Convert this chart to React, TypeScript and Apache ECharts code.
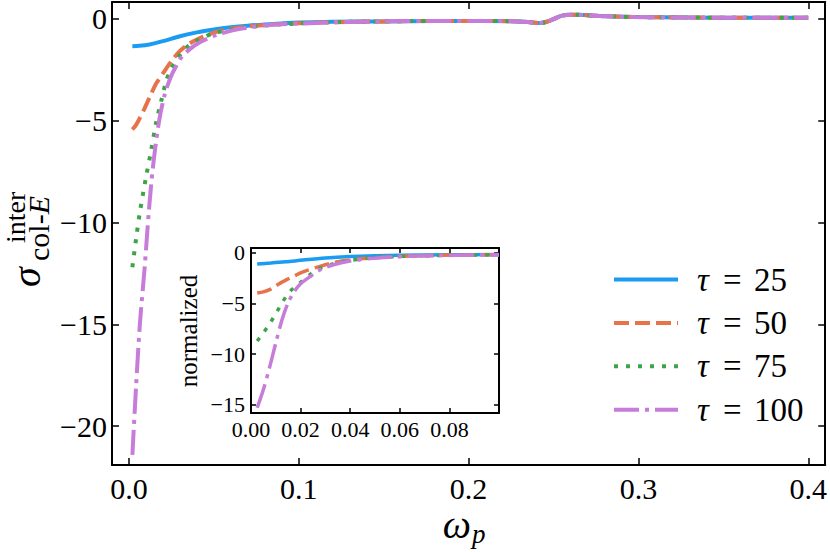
import React, { useEffect, useRef } from "react";
import * as echarts from "echarts";

const FONT = '"Liberation Serif", "DejaVu Serif", serif';

// ---- main panel data (ω_p, σ) ----
const tau25Head: [number, number][] = [
  [0.002, -1.37], [0.006, -1.35], [0.012, -1.28], [0.02, -1.12], [0.03, -0.88],
  [0.04, -0.69], [0.05, -0.55], [0.06, -0.44], [0.07, -0.36], [0.08, -0.3],
  [0.09, -0.25], [0.1, -0.21], [0.12, -0.17],
];
const tau50Head: [number, number][] = [
  [0.002, -5.45], [0.004, -5.25], [0.006, -4.95], [0.009, -4.45], [0.012, -3.9],
  [0.016, -3.2], [0.02, -2.7], [0.025, -2.1], [0.03, -1.6], [0.035, -1.27],
  [0.04, -1.04], [0.05, -0.7], [0.06, -0.51], [0.07, -0.4], [0.08, -0.33],
  [0.1, -0.24], [0.12, -0.19],
];
const tau75Head: [number, number][] = [
  [0.002, -12.2], [0.0042, -10.8], [0.0065, -9.46], [0.01, -7.8], [0.013, -6.5],
  [0.016, -5.1], [0.019, -4.05], [0.022, -3.05], [0.025, -2.45], [0.028, -2.05],
  [0.031, -1.7], [0.035, -1.35], [0.041, -1.05], [0.05, -0.73], [0.06, -0.55],
  [0.07, -0.43], [0.08, -0.35], [0.1, -0.25], [0.12, -0.19],
];
const tau100Head: [number, number][] = [
  [0.002, -21.4], [0.0042, -18.0], [0.0065, -14.9], [0.0092, -12.25], [0.0117, -9.46],
  [0.0141, -7.3], [0.0177, -5.05], [0.021, -3.75], [0.0245, -2.9], [0.0275, -2.39],
  [0.031, -1.9], [0.036, -1.5], [0.041, -1.21], [0.051, -0.83], [0.061, -0.59],
  [0.07, -0.45], [0.081, -0.34], [0.1, -0.26], [0.12, -0.2],
];
const commonTail: [number, number][] = [
  [0.15, -0.15], [0.18, -0.13], [0.21, -0.13], [0.225, -0.14], [0.235, -0.18],
  [0.242, -0.23], [0.246, -0.17], [0.25, -0.04], [0.255, 0.13], [0.26, 0.18],
  [0.268, 0.16], [0.277, 0.11], [0.297, 0.065], [0.33, 0.04], [0.36, 0.03], [0.4, 0.03],
];

// ---- inset data (normalized) ----
const inset25: [number, number][] = [
  [0.0025, -1.09], [0.008, -1.0], [0.014, -0.88], [0.021, -0.7], [0.03, -0.5],
  [0.04, -0.36], [0.05, -0.28], [0.06, -0.23], [0.08, -0.18], [0.1, -0.15],
];
const inset50: [number, number][] = [
  [0.0025, -3.96], [0.005, -3.85], [0.0077, -3.6], [0.01, -3.25], [0.0144, -2.64],
  [0.021, -1.88], [0.0278, -1.32], [0.0345, -0.9], [0.0412, -0.66], [0.048, -0.49],
  [0.061, -0.33], [0.075, -0.24], [0.09, -0.19], [0.1, -0.17],
];
const inset75: [number, number][] = [
  [0.0025, -8.7], [0.005, -7.9], [0.0075, -7.0], [0.01, -6.0], [0.0125, -4.95],
  [0.015, -4.0], [0.0175, -3.4], [0.02, -2.9], [0.024, -2.1], [0.028, -1.5],
  [0.032, -1.15], [0.037, -0.85], [0.048, -0.5], [0.06, -0.34], [0.075, -0.25],
  [0.09, -0.2], [0.1, -0.18],
];
const inset100: [number, number][] = [
  [0.0025, -15.3], [0.005, -13.5], [0.0075, -11.3], [0.01, -8.9], [0.0125, -6.6],
  [0.015, -4.9], [0.0175, -3.8], [0.02, -3.05], [0.024, -2.3], [0.028, -1.65],
  [0.034, -1.12], [0.04, -0.8], [0.048, -0.56], [0.06, -0.37], [0.075, -0.26],
  [0.09, -0.21], [0.1, -0.19],
];

const seriesNames = ["τ = 25", "τ = 50", "τ = 75", "τ = 100"];
const mainXTicks = [0, 0.1, 0.2, 0.3, 0.4];
const mainYTicks = [0, -5, -10, -15, -20];
const insetXTicks = [0, 0.02, 0.04, 0.06, 0.08];
const insetYTicks = [0, -5, -10, -15];

const COLORS = ["#1a9cf2", "#e8734a", "#3da548", "#c77cd9"];
const DASHES: any[] = ["solid", [15, 6], [4, 8], [25, 6, 4, 6]];

const fmtSigned = (v: number, d: number) =>
  (v < 0 ? "\u2212" : "") + Math.abs(v).toFixed(d);

function axisBase(
  grid: number,
  ticks: number[],
  showLabels: boolean,
  fontSize: number,
  digits: number,
  tickLen: number,
  extra: any
) {
  return {
    type: "value",
    gridIndex: grid,
    axisLine: { show: true, onZero: false, lineStyle: { color: "#000", width: 2 } },
    axisTick: {
      show: true,
      inside: true,
      length: tickLen,
      customValues: ticks,
      lineStyle: { color: "#000", width: 1.5 },
    },
    axisLabel: {
      show: showLabels,
      customValues: ticks,
      formatter: (v: number) => fmtSigned(v, digits),
      fontFamily: FONT,
      fontSize,
      color: "#000",
    },
    splitLine: { show: false },
    ...extra,
  };
}

export default function App() {
  const ref = useRef<HTMLDivElement>(null);
  useEffect(() => {
    document.body.style.margin = "0";
    if (!ref.current) return;
    const chart = echarts.init(ref.current, undefined, { renderer: "svg" });
    const mainData = [tau25Head, tau50Head, tau75Head, tau100Head].map((h) =>
      h.concat(commonTail)
    );
    const insetData = [inset25, inset50, inset75, inset100];

    const series: any[] = [];
    mainData.forEach((d, i) => {
      series.push({
        name: seriesNames[i],
        type: "line",
        xAxisIndex: 0,
        yAxisIndex: 0,
        data: d,
        showSymbol: false,
        symbol: "none",
        smooth: 0.3,
        lineStyle: { color: COLORS[i], width: 4, type: DASHES[i] },
        itemStyle: { color: COLORS[i] },
        z: 2 + i,
      });
    });
    insetData.forEach((d, i) => {
      series.push({
        name: seriesNames[i],
        type: "line",
        xAxisIndex: 2,
        yAxisIndex: 2,
        data: d,
        showSymbol: false,
        symbol: "none",
        smooth: 0.3,
        lineStyle: { color: COLORS[i], width: 3.5, type: DASHES[i] },
        itemStyle: { color: COLORS[i] },
        z: 12 + i,
      });
    });

    const option: any = {
      animation: false,
      backgroundColor: "#fff",
      grid: [
        { left: 112, top: 2, width: 714, height: 463, containLabel: false },
        {
          left: 251,
          top: 248,
          width: 248,
          height: 165,
          show: true,
          backgroundColor: "#fff",
          borderWidth: 0,
          z: 10,
        },
      ],
      xAxis: [
        axisBase(0, mainXTicks, true, 30, 1, 7, {
          min: -0.01,
          max: 0.41,
          position: "bottom",
          axisLabel: {
            show: true,
            customValues: mainXTicks,
            formatter: (v: number) => fmtSigned(v, 1),
            fontFamily: FONT,
            fontSize: 30,
            color: "#000",
            margin: 8,
          },
        }),
        axisBase(0, mainXTicks, false, 30, 1, 7, { min: -0.01, max: 0.41, position: "top" }),
        axisBase(1, insetXTicks, true, 22, 2, 5, {
          min: 0,
          max: 0.1,
          position: "bottom",
          z: 10,
          axisLabel: {
            show: true,
            customValues: insetXTicks,
            formatter: (v: number) => fmtSigned(v, 2),
            fontFamily: FONT,
            fontSize: 22,
            color: "#000",
            margin: 5,
          },
        }),
        axisBase(1, insetXTicks, false, 22, 2, 5, { min: 0, max: 0.1, position: "top", z: 10 }),
      ],
      yAxis: [
        axisBase(0, mainYTicks, true, 30, 0, 7, {
          min: -21.9,
          max: 0.8,
          position: "left",
          axisLabel: {
            show: true,
            customValues: mainYTicks,
            formatter: (v: number) => fmtSigned(v, 0),
            fontFamily: FONT,
            fontSize: 30,
            color: "#000",
            margin: 5,
          },
        }),
        axisBase(0, mainYTicks, false, 30, 0, 7, { min: -21.9, max: 0.8, position: "right" }),
        axisBase(1, insetYTicks, true, 22, 0, 5, {
          min: -15.82,
          max: 0.49,
          position: "left",
          z: 10,
          axisLabel: {
            show: true,
            customValues: insetYTicks,
            formatter: (v: number) => fmtSigned(v, 0),
            fontFamily: FONT,
            fontSize: 22,
            color: "#000",
            margin: 6,
          },
        }),
        axisBase(1, insetYTicks, false, 22, 0, 5, {
          min: -15.82,
          max: 0.49,
          position: "right",
          z: 10,
        }),
      ],
      legend: {
        show: true,
        orient: "vertical",
        left: 607,
        top: 258,
        itemWidth: 64,
        itemHeight: 20,
        itemGap: 10.4,
        data: seriesNames,
        itemStyle: { opacity: 0 },
        lineStyle: { width: 4 },
        formatter: (name: string) => {
          const parts = name.split(" = ");
          return `{t|τ} {e|=} {n|${parts[1]}}`;
        },
        textStyle: {
          fontFamily: FONT,
          fontSize: 33,
          color: "#000",
          lineHeight: 20,
          rich: {
            t: { fontStyle: "italic", fontFamily: FONT, fontSize: 33, lineHeight: 20, padding: [0, 2, 0, 14] },
            e: { fontFamily: FONT, fontSize: 33, lineHeight: 20, padding: [0, 4, 0, 4] },
            n: { fontFamily: FONT, fontSize: 33, lineHeight: 20 },
          },
        },
      },
      graphic: [
        {
          type: "text",
          x: 26,
          y: 287,
          rotation: Math.PI / 2,
          style: {
            text: "σ",
            fontFamily: FONT,
            fontSize: 40,
            fontStyle: "italic",
            fill: "#000",
            align: "left",
            verticalAlign: "middle",
          },
        },
        {
          type: "text",
          x: 15,
          y: 243,
          rotation: Math.PI / 2,
          style: {
            text: "inter",
            fontFamily: FONT,
            fontSize: 28,
            fill: "#000",
            align: "left",
            verticalAlign: "middle",
          },
        },
        {
          type: "text",
          x: 38,
          y: 261,
          rotation: Math.PI / 2,
          style: {
            text: "col-{i|E}",
            fontFamily: FONT,
            fontSize: 30,
            fill: "#000",
            align: "left",
            verticalAlign: "middle",
            rich: { i: { fontFamily: FONT, fontSize: 30, fontStyle: "italic", fill: "#000" } },
          },
        },
        {
          type: "text",
          x: 188,
          y: 331,
          rotation: Math.PI / 2,
          z: 20,
          style: {
            text: "normalized",
            fontFamily: FONT,
            fontSize: 25,
            fill: "#000",
            align: "center",
            verticalAlign: "middle",
          },
        },
        {
          type: "text",
          x: 471,
          y: 524,
          style: {
            text: "ω",
            fontFamily: FONT,
            fontSize: 40,
            fontStyle: "italic",
            fill: "#000",
            align: "right",
            verticalAlign: "middle",
          },
        },
        {
          type: "text",
          x: 472,
          y: 534,
          style: {
            text: "p",
            fontFamily: FONT,
            fontSize: 27,
            fontStyle: "italic",
            fill: "#000",
            align: "left",
            verticalAlign: "middle",
          },
        },
      ],
      series,
    };
    chart.setOption(option);
    return () => chart.dispose();
  }, []);
  return <div ref={ref} style={{ width: 830, height: 552 }} />;
}
